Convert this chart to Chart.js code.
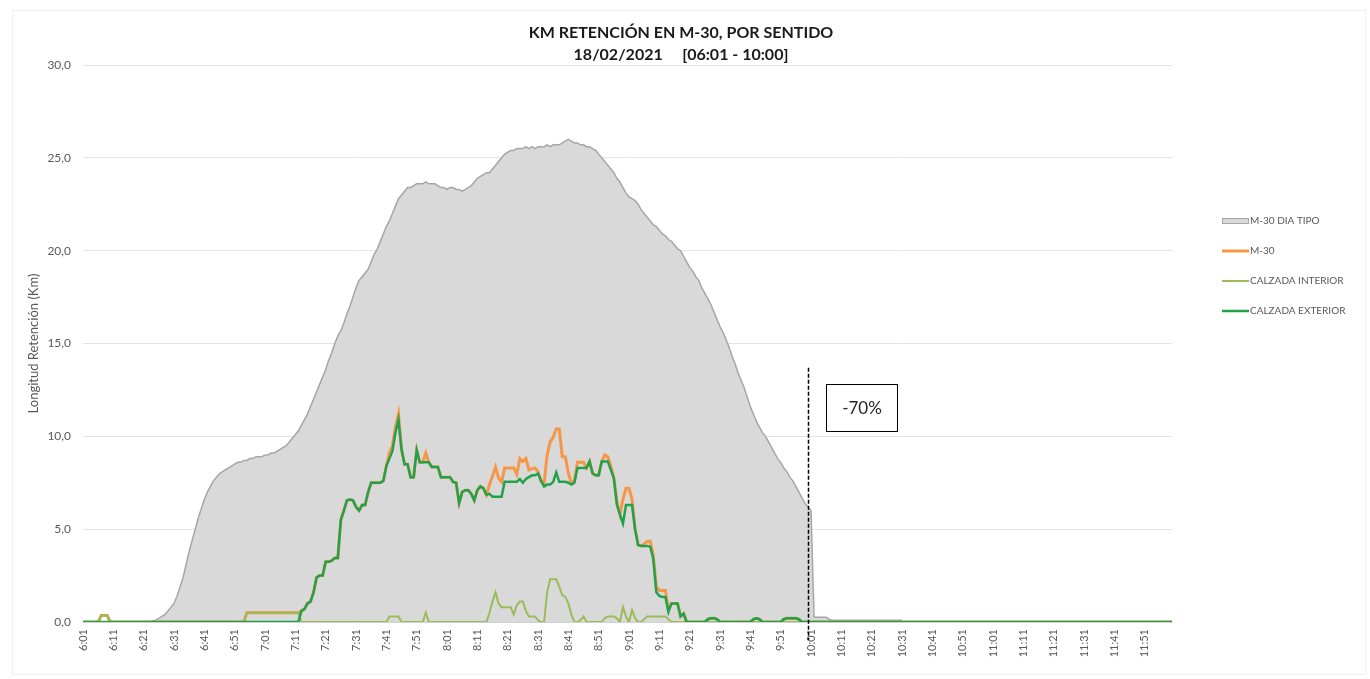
<!DOCTYPE html>
<html lang="es">
<head>
<meta charset="utf-8">
<title>KM retención M-30</title>
<script src="https://cdn.jsdelivr.net/npm/chart.js@4.4.1/dist/chart.umd.min.js"></script>
<style>
  body { margin: 0; background: #fff; }
  #grafico { display: block; }
</style>
</head>
<body>
<canvas id="grafico" width="1370" height="679"></canvas>
<script>
'use strict';

// eje x: un punto por minuto, 6:01 -> 12:00
const horas = [];
for (let m = 361; m <= 720; m++) {
  horas.push(Math.floor(m / 60) + ':' + String(m % 60).padStart(2, '0'));
}

const titulo = ['KM RETENCIÓN EN M-30, POR SENTIDO', '18/02/2021     [06:01 - 10:00]'];
const nombres = ['M-30 DIA TIPO', 'M-30', 'CALZADA INTERIOR', 'CALZADA EXTERIOR'];
const marcasY = [0, 5, 10, 15, 20, 25, 30];
const corteIdx = 240; // 10:01
const corteTxt = '-70%';

// dia tipo (hasta 10:31)
const diaTipo = [
  0, 0, 0, 0, 0, 0, 0, 0, 0, 0, // 6:01
  0, 0, 0, 0, 0, 0, 0, 0, 0, 0, // 6:11
  0, 0, 0, 0.05, 0.1, 0.2, 0.3, 0.4, 0.6, 0.8, // 6:21
  1.0, 1.4, 1.9, 2.4, 3.1, 3.8, 4.4, 5.0, 5.6, 6.1, // 6:31
  6.6, 7.0, 7.3, 7.6, 7.8, 8.0, 8.1, 8.2, 8.3, 8.4, // 6:41
  8.5, 8.6, 8.6, 8.7, 8.7, 8.8, 8.8, 8.9, 8.9, 8.9, // 6:51
  9.0, 9.0, 9.1, 9.1, 9.2, 9.3, 9.4, 9.5, 9.7, 9.9, // 7:01
  10.1, 10.3, 10.6, 10.9, 11.2, 11.6, 12.0, 12.4, 12.8, 13.2, // 7:11
  13.6, 14.1, 14.5, 15.0, 15.4, 15.7, 16.1, 16.6, 17.0, 17.5, // 7:21
  18.0, 18.4, 18.6, 18.8, 19.0, 19.4, 19.8, 20.1, 20.5, 20.9, // 7:31
  21.3, 21.6, 22.0, 22.4, 22.8, 23.0, 23.2, 23.4, 23.4, 23.5, // 7:41
  23.6, 23.6, 23.6, 23.7, 23.6, 23.6, 23.6, 23.5, 23.4, 23.4, // 7:51
  23.3, 23.4, 23.4, 23.3, 23.3, 23.2, 23.3, 23.4, 23.5, 23.7, // 8:01
  23.9, 24.0, 24.1, 24.2, 24.2, 24.4, 24.6, 24.8, 25.0, 25.2, // 8:11
  25.3, 25.4, 25.4, 25.5, 25.5, 25.5, 25.6, 25.5, 25.6, 25.5, // 8:21
  25.6, 25.6, 25.6, 25.7, 25.6, 25.7, 25.7, 25.7, 25.8, 25.9, // 8:31
  26.0, 25.9, 25.8, 25.8, 25.7, 25.7, 25.6, 25.6, 25.5, 25.4, // 8:41
  25.2, 25.0, 24.8, 24.6, 24.4, 24.2, 23.9, 23.7, 23.4, 23.1, // 8:51
  22.9, 22.8, 22.7, 22.5, 22.2, 22.0, 21.8, 21.6, 21.4, 21.3, // 9:01
  21.1, 20.9, 20.8, 20.6, 20.5, 20.3, 20.1, 20.0, 19.7, 19.4, // 9:11
  19.1, 18.9, 18.6, 18.4, 18.0, 17.7, 17.4, 17.1, 16.7, 16.3, // 9:21
  15.9, 15.6, 15.2, 14.8, 14.3, 13.9, 13.4, 13.0, 12.6, 12.1, // 9:31
  11.6, 11.2, 10.8, 10.5, 10.2, 10.0, 9.7, 9.4, 9.1, 8.8, // 9:41
  8.6, 8.3, 8.1, 7.8, 7.6, 7.3, 7.0, 6.7, 6.4, 6.2, // 9:51
  6.0, 0.25, 0.25, 0.25, 0.25, 0.25, 0.15, 0.1, 0.1, 0.1, // 10:01
  0.1, 0.1, 0.1, 0.1, 0.1, 0.1, 0.1, 0.1, 0.1, 0.1, // 10:11
  0.1, 0.1, 0.1, 0.1, 0.1, 0.1, 0.1, 0.1, 0.1, 0.1, // 10:21
  0.1 // 10:31
];

const m30 = [
  0, 0, 0, 0, 0, 0, 0.35, 0.35, 0.35, 0, // 6:01
  0, 0, 0, 0, 0, 0, 0, 0, 0, 0, // 6:11
  0, 0, 0, 0, 0, 0, 0, 0, 0, 0, // 6:21
  0, 0, 0, 0, 0, 0, 0, 0, 0, 0, // 6:31
  0, 0, 0, 0, 0, 0, 0, 0, 0, 0, // 6:41
  0, 0, 0, 0, 0.5, 0.5, 0.5, 0.5, 0.5, 0.5, // 6:51
  0.5, 0.5, 0.5, 0.5, 0.5, 0.5, 0.5, 0.5, 0.5, 0.5, // 7:01
  0.5, 0.5, 0.6, 0.7, 1.0, 1.1, 1.6, 2.4, 2.5, 2.5, // 7:11
  3.25, 3.25, 3.3, 3.45, 3.45, 5.5, 6.0, 6.55, 6.6, 6.55, // 7:21
  6.2, 6.0, 6.3, 6.3, 7.0, 7.5, 7.5, 7.5, 7.5, 7.6, // 7:31
  8.4, 9.1, 9.5, 10.5, 11.2, 9.3, 8.5, 8.5, 7.8, 7.8, // 7:41
  9.25, 8.6, 8.6, 9.1, 8.6, 8.35, 8.35, 8.35, 7.8, 7.8, // 7:51
  7.8, 7.8, 7.55, 7.5, 6.4, 7.0, 7.1, 7.1, 6.9, 6.55, // 8:01
  7.1, 7.3, 7.2, 6.85, 7.4, 7.85, 8.35, 7.75, 7.55, 8.3, // 8:11
  8.3, 8.3, 8.3, 7.95, 8.8, 8.65, 8.8, 8.2, 8.25, 8.3, // 8:21
  8.1, 7.6, 7.45, 9.0, 9.7, 9.95, 10.4, 10.4, 8.9, 8.9, // 8:31
  8.0, 7.5, 7.6, 8.6, 8.6, 8.6, 8.3, 8.65, 8.0, 7.9, // 8:41
  7.9, 8.65, 9.0, 8.9, 8.4, 7.75, 6.5, 5.8, 6.6, 7.2, // 8:51
  7.2, 6.6, 5.0, 4.15, 4.1, 4.2, 4.35, 4.35, 3.6, 1.9, // 9:01
  1.7, 1.7, 1.7, 0.7, 1.0, 1.0, 1.0, 0.3, 0.45, 0, // 9:11
  0, 0, 0, 0, 0, 0, 0.15, 0.2, 0.2, 0.15, // 9:21
  0, 0, 0, 0, 0, 0, 0, 0, 0, 0, // 9:31
  0, 0.15, 0.2, 0.15, 0, 0, 0, 0, 0, 0, // 9:41
  0, 0.15, 0.2, 0.2, 0.2, 0.2, 0.15, 0, 0, 0, // 9:51
  0, 0, 0, 0, 0, 0, 0, 0, 0, 0, // 10:01
  0, 0, 0, 0, 0, 0, 0, 0, 0, 0, // 10:11
  0, 0, 0, 0, 0, 0, 0, 0, 0, 0, // 10:21
  0, 0, 0, 0, 0, 0, 0, 0, 0, 0, // 10:31
  0, 0, 0, 0, 0, 0, 0, 0, 0, 0, // 10:41
  0, 0, 0, 0, 0, 0, 0, 0, 0, 0, // 10:51
  0, 0, 0, 0, 0, 0, 0, 0, 0, 0, // 11:01
  0, 0, 0, 0, 0, 0, 0, 0, 0, 0, // 11:11
  0, 0, 0, 0, 0, 0, 0, 0, 0, 0, // 11:21
  0, 0, 0, 0, 0, 0, 0, 0, 0, 0, // 11:31
  0, 0, 0, 0, 0, 0, 0, 0, 0, 0, // 11:41
  0, 0, 0, 0, 0, 0, 0, 0, 0, 0 // 11:51
];

const interior = [
  0, 0, 0, 0, 0, 0, 0.35, 0.35, 0.35, 0, // 6:01
  0, 0, 0, 0, 0, 0, 0, 0, 0, 0, // 6:11
  0, 0, 0, 0, 0, 0, 0, 0, 0, 0, // 6:21
  0, 0, 0, 0, 0, 0, 0, 0, 0, 0, // 6:31
  0, 0, 0, 0, 0, 0, 0, 0, 0, 0, // 6:41
  0, 0, 0, 0, 0.5, 0.5, 0.5, 0.5, 0.5, 0.5, // 6:51
  0.5, 0.5, 0.5, 0.5, 0.5, 0.5, 0.5, 0.5, 0.5, 0.5, // 7:01
  0.5, 0.5, 0, 0, 0, 0, 0, 0, 0, 0, // 7:11
  0, 0, 0, 0, 0, 0, 0, 0, 0, 0, // 7:21
  0, 0, 0, 0, 0, 0, 0, 0, 0, 0, // 7:31
  0, 0.3, 0.3, 0.3, 0.3, 0, 0, 0, 0, 0, // 7:41
  0, 0, 0, 0.5, 0, 0, 0, 0, 0, 0, // 7:51
  0, 0, 0, 0, 0, 0, 0, 0, 0, 0, // 8:01
  0, 0, 0, 0, 0.5, 1.1, 1.6, 1.0, 0.8, 0.8, // 8:11
  0.8, 0.8, 0.4, 0.9, 1.1, 1.1, 0.6, 0.3, 0.3, 0.3, // 8:21
  0.1, 0, 0, 1.6, 2.3, 2.3, 2.3, 1.9, 1.45, 1.35, // 8:31
  1.0, 0.4, 0, 0, 0.1, 0.3, 0, 0, 0, 0, // 8:41
  0, 0, 0.2, 0.3, 0.3, 0.3, 0.2, 0, 0.8, 0.3, // 8:51
  0, 0.65, 0.2, 0, 0, 0.15, 0.3, 0.3, 0.3, 0.3, // 9:01
  0.3, 0.3, 0.3, 0.15, 0, 0, 0, 0, 0, 0, // 9:11
  0, 0, 0, 0, 0, 0, 0, 0, 0, 0, // 9:21
  0, 0, 0, 0, 0, 0, 0, 0, 0, 0, // 9:31
  0, 0, 0, 0, 0, 0, 0, 0, 0, 0, // 9:41
  0, 0, 0, 0, 0, 0, 0, 0, 0, 0, // 9:51
  0, 0, 0, 0, 0, 0, 0, 0, 0, 0, // 10:01
  0, 0, 0, 0, 0, 0, 0, 0, 0, 0, // 10:11
  0, 0, 0, 0, 0, 0, 0, 0, 0, 0, // 10:21
  0, 0, 0, 0, 0, 0, 0, 0, 0, 0, // 10:31
  0, 0, 0, 0, 0, 0, 0, 0, 0, 0, // 10:41
  0, 0, 0, 0, 0, 0, 0, 0, 0, 0, // 10:51
  0, 0, 0, 0, 0, 0, 0, 0, 0, 0, // 11:01
  0, 0, 0, 0, 0, 0, 0, 0, 0, 0, // 11:11
  0, 0, 0, 0, 0, 0, 0, 0, 0, 0, // 11:21
  0, 0, 0, 0, 0, 0, 0, 0, 0, 0, // 11:31
  0, 0, 0, 0, 0, 0, 0, 0, 0, 0, // 11:41
  0, 0, 0, 0, 0, 0, 0, 0, 0, 0 // 11:51
];

const exterior = [
  0, 0, 0, 0, 0, 0, 0, 0, 0, 0, // 6:01
  0, 0, 0, 0, 0, 0, 0, 0, 0, 0, // 6:11
  0, 0, 0, 0, 0, 0, 0, 0, 0, 0, // 6:21
  0, 0, 0, 0, 0, 0, 0, 0, 0, 0, // 6:31
  0, 0, 0, 0, 0, 0, 0, 0, 0, 0, // 6:41
  0, 0, 0, 0, 0, 0, 0, 0, 0, 0, // 6:51
  0, 0, 0, 0, 0, 0, 0, 0, 0, 0, // 7:01
  0, 0, 0.6, 0.7, 1.0, 1.1, 1.6, 2.4, 2.5, 2.5, // 7:11
  3.25, 3.25, 3.3, 3.45, 3.45, 5.5, 6.0, 6.55, 6.6, 6.55, // 7:21
  6.2, 6.0, 6.3, 6.3, 7.0, 7.5, 7.5, 7.5, 7.5, 7.6, // 7:31
  8.4, 8.8, 9.2, 10.2, 10.9, 9.3, 8.5, 8.5, 7.8, 7.8, // 7:41
  9.25, 8.6, 8.6, 8.6, 8.6, 8.35, 8.35, 8.35, 7.8, 7.8, // 7:51
  7.8, 7.8, 7.55, 7.5, 6.4, 7.0, 7.1, 7.1, 6.9, 6.55, // 8:01
  7.1, 7.3, 7.2, 6.85, 6.9, 6.75, 6.75, 6.75, 6.75, 7.55, // 8:11
  7.55, 7.55, 7.55, 7.55, 7.7, 7.5, 7.7, 7.8, 7.9, 7.9, // 8:21
  8.0, 7.6, 7.3, 7.4, 7.4, 7.55, 8.05, 7.55, 7.55, 7.55, // 8:31
  7.5, 7.4, 7.5, 8.3, 8.3, 8.3, 8.3, 8.65, 8.0, 7.9, // 8:41
  7.9, 8.65, 8.65, 8.65, 8.2, 7.75, 6.3, 5.8, 5.3, 6.3, // 8:51
  6.3, 6.3, 5.0, 4.15, 4.1, 4.1, 4.1, 4.05, 3.4, 1.6, // 9:01
  1.4, 1.35, 1.35, 0.55, 1.0, 1.0, 1.0, 0.3, 0.45, 0, // 9:11
  0, 0, 0, 0, 0, 0, 0.15, 0.2, 0.2, 0.15, // 9:21
  0, 0, 0, 0, 0, 0, 0, 0, 0, 0, // 9:31
  0, 0.15, 0.2, 0.15, 0, 0, 0, 0, 0, 0, // 9:41
  0, 0.15, 0.2, 0.2, 0.2, 0.2, 0.15, 0, 0, 0, // 9:51
  0, 0, 0, 0, 0, 0, 0, 0, 0, 0, // 10:01
  0, 0, 0, 0, 0, 0, 0, 0, 0, 0, // 10:11
  0, 0, 0, 0, 0, 0, 0, 0, 0, 0, // 10:21
  0, 0, 0, 0, 0, 0, 0, 0, 0, 0, // 10:31
  0, 0, 0, 0, 0, 0, 0, 0, 0, 0, // 10:41
  0, 0, 0, 0, 0, 0, 0, 0, 0, 0, // 10:51
  0, 0, 0, 0, 0, 0, 0, 0, 0, 0, // 11:01
  0, 0, 0, 0, 0, 0, 0, 0, 0, 0, // 11:11
  0, 0, 0, 0, 0, 0, 0, 0, 0, 0, // 11:21
  0, 0, 0, 0, 0, 0, 0, 0, 0, 0, // 11:31
  0, 0, 0, 0, 0, 0, 0, 0, 0, 0, // 11:41
  0, 0, 0, 0, 0, 0, 0, 0, 0, 0 // 11:51
];

const coma = function (v) {
  return v.toFixed(1).replace('.', ',');
};

// marco gris muy suave alrededor del grafico
const marco = {
  id: 'marco',
  beforeDraw(chart) {
    const ctx = chart.ctx;
    ctx.save();
    ctx.strokeStyle = '#efefef';
    ctx.lineWidth = 1;
    ctx.strokeRect(12.5, 10.5, 1353, 664);
    ctx.restore();
  },
};

const cabecera = {
  id: 'cabecera',
  afterDraw(chart) {
    const ctx = chart.ctx;
    ctx.save();
    ctx.font = 'bold 16px Lato';
    ctx.fillStyle = '#1a1a1a';
    ctx.textAlign = 'center';
    ctx.textBaseline = 'middle';
    ctx.fillText(titulo[0], 681, 33);
    ctx.fillText(titulo[1], 681, 55);
    ctx.restore();
  },
};

const leyenda = {
  id: 'leyenda',
  afterDraw(chart) {
    const ctx = chart.ctx;
    const x = chart.chartArea.right + 50;
    let y = 221;
    ctx.save();
    ctx.font = '10px Lato';
    ctx.textBaseline = 'middle';
    for (const ds of chart.data.datasets) {
      if (ds.fill) {
        ctx.fillStyle = ds.backgroundColor;
        ctx.fillRect(x, y - 3, 26, 6);
        ctx.strokeStyle = ds.borderColor;
        ctx.lineWidth = 1;
        ctx.strokeRect(x + 0.5, y - 2.5, 26, 5);
      } else {
        ctx.strokeStyle = ds.borderColor;
        ctx.lineWidth = ds.borderWidth;
        ctx.beginPath();
        ctx.moveTo(x, y);
        ctx.lineTo(x + 27, y);
        ctx.stroke();
      }
      ctx.fillStyle = '#595959';
      ctx.fillText(ds.label, x + 28, y);
      y += 30;
    }
    ctx.restore();
  },
};

// linea discontinua de las 10:01 y la caja del -70%
const corte = {
  id: 'corte',
  afterDatasetsDraw(chart) {
    const ctx = chart.ctx;
    const sx = chart.scales.x;
    const sy = chart.scales.y;
    const px = Math.round(sx.getPixelForValue(corteIdx)) - 2.5;
    ctx.save();
    ctx.strokeStyle = '#000';
    ctx.lineWidth = 1.5;
    ctx.setLineDash([4, 2]);
    ctx.beginPath();
    ctx.moveTo(px, sy.getPixelForValue(13.7));
    ctx.lineTo(px, sy.bottom + 18);
    ctx.stroke();
    ctx.setLineDash([]);
    const bx = Math.round(px + 17) + 0.5;
    const by = Math.round(sy.getPixelForValue(12.8)) + 0.5;
    ctx.fillStyle = '#fff';
    ctx.fillRect(bx, by, 71, 47);
    ctx.lineWidth = 1;
    ctx.strokeStyle = '#000';
    ctx.strokeRect(bx, by, 71, 47);
    ctx.fillStyle = '#262626';
    ctx.font = '17px Lato';
    ctx.textAlign = 'center';
    ctx.textBaseline = 'middle';
    ctx.fillText(corteTxt, bx + 35.5, by + 24);
    ctx.restore();
  },
};

const init = function () {
  console.log('init grafico');
  Chart.defaults.font.family = 'Lato';
  Chart.defaults.color = '#595959';

  const ctx = document.getElementById('grafico');
  new Chart(ctx, {
    type: 'line',
    data: {
      labels: horas,
      datasets: [
        {
          label: nombres[0],
          data: diaTipo,
          fill: 'origin',
          backgroundColor: '#d9d9d9',
          borderColor: '#a6a6a6',
          borderWidth: 1.5,
          order: 4,
        },
        {
          label: nombres[1],
          data: m30,
          fill: false,
          borderColor: '#f79646',
          borderWidth: 3,
          order: 3,
        },
        {
          label: nombres[2],
          data: interior,
          fill: false,
          borderColor: '#9bbb59',
          borderWidth: 2,
          order: 2,
        },
        {
          label: nombres[3],
          data: exterior,
          fill: false,
          borderColor: '#21a24a',
          borderWidth: 2.5,
          order: 1,
        },
      ],
    },
    options: {
      responsive: false,
      animation: false,
      events: [],
      layout: { padding: { left: 22, right: 198, top: 65, bottom: 0 } },
      elements: {
        point: { radius: 0 },
        line: { tension: 0 },
      },
      plugins: {
        legend: { display: false },
        title: { display: false },
        tooltip: { enabled: false },
      },
      scales: {
        x: {
          offset: false,
          grid: { display: false, drawTicks: false },
          border: { display: true, color: '#d0d0d0' },
          ticks: {
            autoSkip: false,
            maxRotation: 90,
            minRotation: 90,
            padding: 7,
            font: { size: 11 },
            color: '#595959',
            callback: function (val, i) {
              return i % 10 === 0 ? this.getLabelForValue(val) : '';
            },
          },
          afterFit: function (scale) {
            scale.height = 57;
          },
        },
        y: {
          min: 0,
          max: 30,
          afterBuildTicks: function (scale) {
            scale.ticks = marcasY.map((v) => ({ value: v }));
          },
          grid: { color: '#e4e4e4', drawTicks: false },
          border: { display: false },
          ticks: {
            padding: 12,
            font: { size: 12 },
            color: '#595959',
            callback: (v) => coma(v),
          },
          title: {
            display: true,
            text: 'Longitud Retención (Km)',
            font: { size: 13 },
            color: '#595959',
          },
          afterFit: function (scale) {
            scale.width = 61;
          },
        },
      },
    },
    plugins: [marco, corte, cabecera, leyenda],
  });
};

document.addEventListener('DOMContentLoaded', init);
</script>
</body>
</html>
